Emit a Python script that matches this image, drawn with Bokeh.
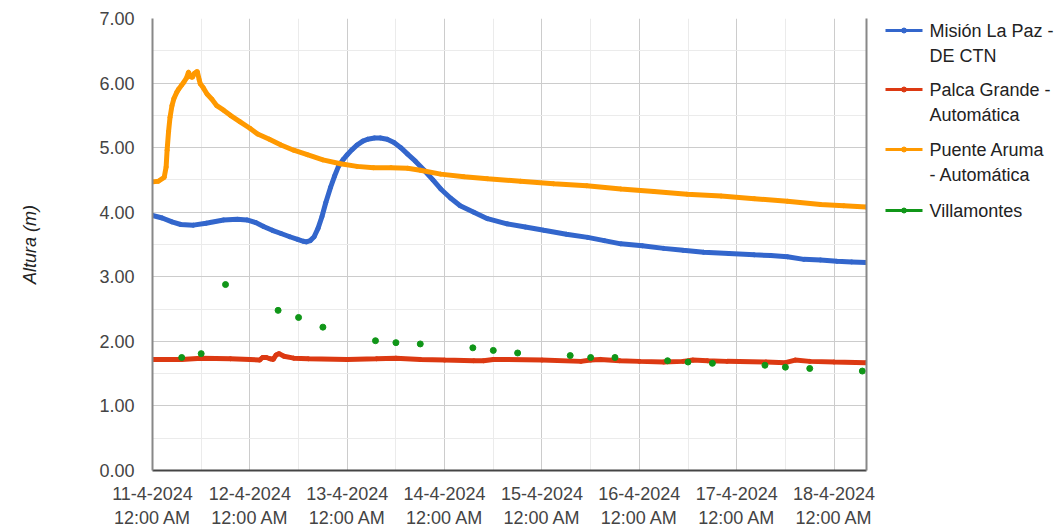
from bokeh.plotting import figure
from bokeh.layouts import row
from bokeh.models import Range1d, FixedTicker, LinearAxis, NumeralTickFormatter
from bokeh.core.properties import value
from bokeh.embed import file_html
from bokeh.resources import INLINE

# x = days since 11-4-2024 12:00 AM
tick_days = [0, 1, 2, 3, 4, 5, 6, 7]
tick_labels = ["11-4-2024\n12:00 AM", "12-4-2024\n12:00 AM", "13-4-2024\n12:00 AM",
               "14-4-2024\n12:00 AM", "15-4-2024\n12:00 AM", "16-4-2024\n12:00 AM",
               "17-4-2024\n12:00 AM", "18-4-2024\n12:00 AM"]
x_end = 7.333
y_ticks = [0, 1, 2, 3, 4, 5, 6, 7]

mision_t = [0, 0.1, 0.2, 0.29, 0.42, 0.55, 0.73, 0.87, 0.97, 1.06, 1.14, 1.23, 1.32, 1.41,
            1.49, 1.55, 1.58, 1.62, 1.66, 1.70, 1.74, 1.78, 1.83, 1.87, 1.91, 1.96, 2.0,
            2.05, 2.10, 2.16, 2.21, 2.28, 2.34, 2.41, 2.48, 2.55, 2.62, 2.70, 2.79, 2.88,
            2.96, 3.06, 3.16, 3.30, 3.44, 3.64, 3.83, 4.02, 4.25, 4.47, 4.64, 4.81, 5.03,
            5.25, 5.45, 5.66, 5.92, 6.18, 6.35, 6.52, 6.69, 6.86, 7.03, 7.18, 7.33]
mision_h = [3.95, 3.91, 3.85, 3.81, 3.80, 3.83, 3.88, 3.89, 3.88, 3.84, 3.78, 3.72, 3.67, 3.62,
            3.58, 3.55, 3.54, 3.56, 3.62, 3.75, 3.93, 4.15, 4.39, 4.56, 4.71, 4.82, 4.89,
            4.97, 5.04, 5.10, 5.13, 5.15, 5.15, 5.13, 5.08, 5.00, 4.90, 4.79, 4.65, 4.50,
            4.36, 4.22, 4.10, 4.00, 3.90, 3.82, 3.77, 3.72, 3.66, 3.61, 3.56, 3.51, 3.48,
            3.44, 3.41, 3.38, 3.36, 3.34, 3.33, 3.31, 3.27, 3.26, 3.24, 3.23, 3.22]

palca_t = [0, 0.3, 0.5, 0.8, 1.0, 1.1, 1.13, 1.17, 1.21, 1.24, 1.27, 1.30, 1.35, 1.45, 1.6,
           2.0, 2.3, 2.5, 2.75, 3.0, 3.3, 3.4, 3.5, 3.6, 4.0, 4.4, 4.5, 4.6, 4.8, 5.0, 5.25,
           5.45, 5.55, 5.7, 5.9, 6.3, 6.5, 6.6, 6.75, 7.0, 7.33]
palca_h = [1.72, 1.72, 1.74, 1.73, 1.72, 1.71, 1.75, 1.75, 1.73, 1.72, 1.79, 1.81, 1.77, 1.74,
           1.73, 1.72, 1.73, 1.74, 1.72, 1.71, 1.70, 1.70, 1.72, 1.72, 1.71, 1.69, 1.71,
           1.72, 1.70, 1.69, 1.68, 1.69, 1.71, 1.70, 1.69, 1.68, 1.67, 1.71, 1.69, 1.68, 1.67]

aruma_t = [0, 0.06, 0.12, 0.14, 0.15, 0.165, 0.18, 0.2, 0.22, 0.25, 0.27, 0.3, 0.32, 0.35,
           0.37, 0.39, 0.41, 0.43, 0.46, 0.48, 0.49, 0.52, 0.56, 0.61, 0.66, 0.73, 0.80,
           0.90, 1.0, 1.08, 1.2, 1.32, 1.45, 1.59, 1.75, 1.93, 2.1, 2.27, 2.45, 2.62, 2.75,
           2.96, 3.2, 3.44, 3.78, 4.12, 4.46, 4.81, 5.15, 5.49, 5.84, 6.18, 6.52, 6.86, 7.1,
           7.33]
aruma_h = [4.47, 4.48, 4.54, 4.70, 4.96, 5.25, 5.47, 5.65, 5.76, 5.86, 5.91, 5.97, 6.01, 6.08,
           6.17, 6.10, 6.09, 6.15, 6.18, 6.05, 5.99, 5.93, 5.83, 5.75, 5.65, 5.58, 5.50,
           5.40, 5.30, 5.21, 5.13, 5.04, 4.96, 4.89, 4.81, 4.75, 4.71, 4.69, 4.69, 4.68, 4.65,
           4.59, 4.55, 4.52, 4.48, 4.44, 4.41, 4.36, 4.32, 4.28, 4.25, 4.21, 4.17, 4.12, 4.10,
           4.08]

villa_t = [0.30, 0.50, 0.75, 1.29, 1.50, 1.75, 2.29, 2.50, 2.75, 3.29, 3.50, 3.75, 4.29,
           4.50, 4.75, 5.29, 5.50, 5.75, 6.29, 6.50, 6.75, 7.29]
villa_h = [1.75, 1.81, 2.88, 2.48, 2.37, 2.22, 2.01, 1.98, 1.96, 1.90, 1.86, 1.82, 1.78,
           1.75, 1.75, 1.70, 1.68, 1.66, 1.63, 1.60, 1.58, 1.54]

series_names = [["Misión La Paz -", "DE CTN"], ["Palca Grande -", "Automática"],
                ["Puente Aruma", "- Automática"], ["Villamontes"]]
colors = ["#3366cc", "#dc3912", "#ff9900", "#109618"]

FONT = "Liberation Sans"

P_W = 880
H = 531
TOP = 18
BOTTOM = 61
p = figure(width=P_W, height=H, output_backend="svg", toolbar_location=None,
           x_range=Range1d(0, x_end), y_range=Range1d(0, 7),
           min_border_left=152, min_border_right=P_W - 866, min_border_top=TOP,
           min_border_bottom=BOTTOM)
p.outline_line_color = None
p.background_fill_color = "white"

p.xaxis.ticker = FixedTicker(ticks=tick_days,
                             minor_ticks=[d + 0.5 for d in tick_days])
p.xaxis.major_label_overrides = {d: lab for d, lab in zip(tick_days, tick_labels)}
p.yaxis.ticker = FixedTicker(ticks=y_ticks, minor_ticks=[v + 0.5 for v in y_ticks[:-1]])
p.yaxis.formatter = NumeralTickFormatter(format="0.00")

for ax in (p.xaxis[0], p.yaxis[0]):
    ax.major_tick_line_color = None
    ax.minor_tick_line_color = None
    ax.major_label_text_font = FONT
    ax.major_label_text_font_size = "18px"
    ax.major_label_text_color = "#444444"
p.xaxis.axis_line_color = "#444444"
p.xaxis.axis_line_width = 2
p.xaxis.major_label_standoff = 7
p.xaxis.major_label_text_line_height = 1.22
p.yaxis.axis_line_color = "#888888"
p.yaxis.axis_line_width = 2
p.yaxis.major_label_standoff = 12
p.yaxis.axis_label = "Altura (m)"
p.yaxis.axis_label_text_font = FONT
p.yaxis.axis_label_text_font_style = "italic"
p.yaxis.axis_label_text_font_size = "18px"
p.yaxis.axis_label_text_color = "#222222"
p.yaxis.axis_label_standoff = 56

right_ax = LinearAxis(ticker=FixedTicker(ticks=[]), major_tick_line_color=None,
                      minor_tick_line_color=None, axis_line_color="#888888",
                      axis_line_width=2)
p.add_layout(right_ax, "right")

p.xgrid.grid_line_color = "#cccccc"
p.ygrid.grid_line_color = "#cccccc"
p.xgrid.minor_grid_line_color = "#ebebeb"
p.ygrid.minor_grid_line_color = "#ebebeb"

LW = 5
p.line(mision_t, mision_h, line_color=colors[0], line_width=LW)
p.scatter(mision_t, mision_h, size=4, color=colors[0])
p.line(palca_t, palca_h, line_color=colors[1], line_width=LW)
p.scatter(palca_t, palca_h, size=4, color=colors[1])
p.line(aruma_t, aruma_h, line_color=colors[2], line_width=LW)
p.scatter(aruma_t, aruma_h, size=4, color=colors[2])
p.scatter(villa_t, villa_h, size=6, color=colors[3])

# legend panel drawn in pixel coordinates of its own small figure
# (its frame is aligned with the main frame: from TOP to H - BOTTOM)
L_W = 1064 - P_W
lg = figure(width=L_W, height=H, output_backend="svg", toolbar_location=None,
            x_range=Range1d(0, L_W), y_range=Range1d(H - BOTTOM, TOP),
            min_border_left=0, min_border_right=0, min_border_top=TOP,
            min_border_bottom=BOTTOM)
lg.outline_line_color = None
lg.axis.visible = False
lg.grid.visible = False

x0 = 885 - P_W
glyph_w = 37
first_rows = [30, 89, 149, 210]
line_gap = 25.5
for names, col, yrow in zip(series_names, colors, first_rows):
    lg.line([x0, x0 + glyph_w], [yrow, yrow], line_color=col, line_width=3)
    lg.scatter([x0 + glyph_w / 2], [yrow], size=5, color=col)
    ys = [yrow + i * line_gap for i in range(len(names))]
    lg.text([x0 + glyph_w + 7] * len(names), ys, text=names,
            text_font=value(FONT), text_font_size="18px", text_color="#222222",
            text_baseline="middle", text_align="left")

open("out.html", "w").write(file_html(row(p, lg), INLINE))
